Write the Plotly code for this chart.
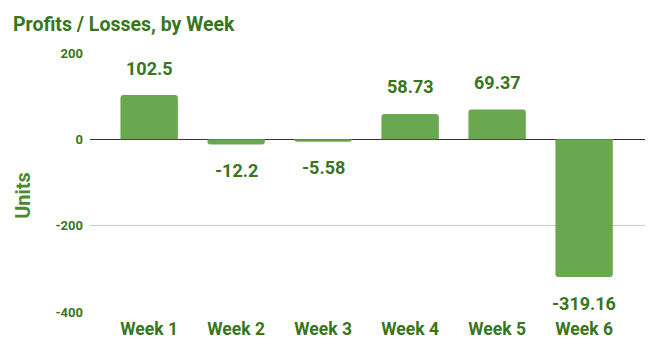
import plotly.graph_objects as go

weeks = ["Week 1", "Week 2", "Week 3", "Week 4", "Week 5", "Week 6"]
values = [102.5, -12.2, -5.58, 58.73, 69.37, -319.16]
labels = ["102.5", "-12.2", "-5.58", "58.73", "69.37", "-319.16"]
yticks = [200, 0, -200, -400]

dark = "#38761d"
bar = "#6aa84f"
axis_title = "#4a8a2c"

fig = go.Figure(go.Bar(x=weeks, y=values, marker=dict(color=bar, line=dict(width=0)),
                       width=0.66, hoverinfo="skip"))

for w, v, t in zip(weeks, values, labels):
    fig.add_annotation(x=w, y=v, text=t, showarrow=False, yanchor="middle",
                       yshift=27 if v >= 0 else -26,
                       font=dict(family="Roboto", size=18, color=dark, weight="bold"))

fig.add_annotation(text="<b>Units</b>", xref="paper", yref="paper", x=-0.12, y=0.45,
                   xanchor="center", yanchor="middle", textangle=-90, showarrow=False,
                   font=dict(family="Roboto", size=20, color=axis_title))

fig.update_layout(
    width=657, height=351,
    margin=dict(l=90, r=12, t=53, b=39),
    plot_bgcolor="white", paper_bgcolor="white",
    barcornerradius=3,
    showlegend=False,
    title=dict(text="<b>Profits / Losses, by Week</b>", x=13/657, xanchor="left",
               y=1 - 24/351, yanchor="middle",
               font=dict(family="Roboto", size=19.5, color=dark)),
    xaxis=dict(range=[-0.68, 5.7], showgrid=False, showline=False, ticks="", automargin=False,
               ticklabelstandoff=4,
               tickfont=dict(family="Roboto", size=17.5, color=dark, weight="bold")),
    yaxis=dict(range=[-400, 200], tickvals=yticks, ticktext=[str(v) for v in yticks],
               automargin=False,
               showgrid=True, gridcolor="#cccccc", gridwidth=1,
               zeroline=True, zerolinecolor="#333333", zerolinewidth=1,
               tickfont=dict(family="Roboto", size=13, color=dark, weight="bold"),
               ticklabelstandoff=6),
)

fig.write_html("out.html")
